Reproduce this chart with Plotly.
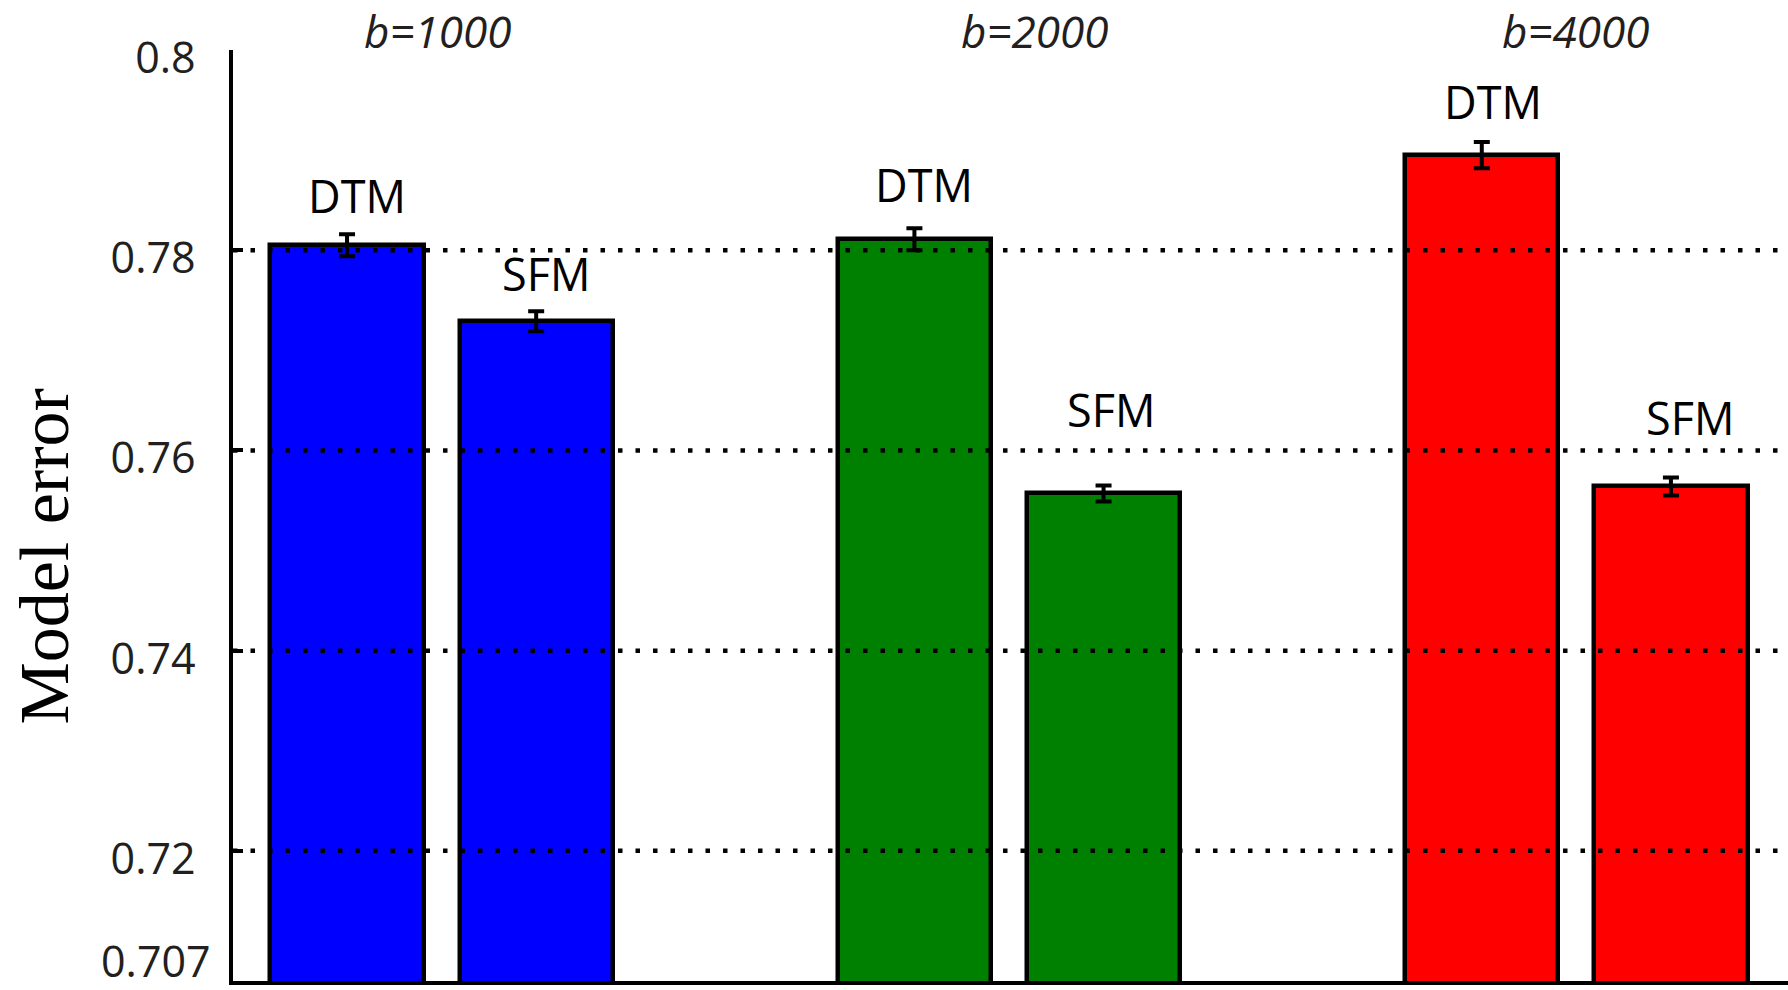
import plotly.graph_objects as go

# Batch sizes and the two methods compared in each batch
groups = ["b=1000", "b=2000", "b=4000"]
methods = ["DTM", "SFM"]

# Mean model error and its standard error per batch size
dtm_error = [0.7805, 0.7811, 0.7895]
sfm_error = [0.7729, 0.7557, 0.7564]
dtm_std = [0.0011, 0.0011, 0.0013]
sfm_std = [0.0010, 0.0008, 0.0009]

# Y axis ticks
y_ticks = [0.72, 0.74, 0.76, 0.78, 0.8]
y_tick_text = ["0.72", "0.74", "0.76", "0.78", "0.8"]
y_floor = 0.707
y_floor_text = "0.707"

group_colors = ["#0000ff", "#008000", "#ff0000"]
sans = "Open Sans"
serif = "Liberation Serif"
label_color = "#231f20"

fig = go.Figure()

# One trace per batch size: DTM bar in slot 3g, SFM bar in slot 3g+1
for g, name in enumerate(groups):
    fig.add_trace(go.Bar(
        x=[3 * g, 3 * g + 1],
        y=[dtm_error[g], sfm_error[g]],
        width=0.81,
        name=name,
        marker=dict(color=group_colors[g], line=dict(color="black", width=4.5)),
        error_y=dict(type="data", array=[dtm_std[g], sfm_std[g]],
                     color="black", thickness=4, width=8),
        showlegend=False,
    ))

# Dotted reference lines drawn over the bars
for t in y_ticks[:-1]:
    fig.add_shape(type="line", xref="paper", x0=0, x1=1, yref="y", y0=t, y1=t,
                  line=dict(color="black", width=4.5, dash="4.5px,13px"),
                  layer="above")

annotations = []

# Method labels above each bar (x position, y position)
label_pos = {
    (0, 0): (0.05, 0.78551), (0, 1): (1.05, 0.77768),
    (1, 0): (3.05, 0.78655), (1, 1): (4.04, 0.76408),
    (2, 0): (6.06, 0.79483), (2, 1): (7.10, 0.76326),
}
for g in range(len(groups)):
    for m, meth in enumerate(methods):
        lx, ly = label_pos[(g, m)]
        annotations.append(dict(
            x=lx, y=ly, xref="x", yref="y", text=meth, showarrow=False,
            xanchor="center", yanchor="middle",
            font=dict(family=sans, size=45, color="black")))

# Batch-size headers above each group
header_x = [0.48, 3.64, 6.50]
for g, name in enumerate(groups):
    annotations.append(dict(
        x=header_x[g], y=1.0204, xref="x", yref="paper",
        text="<i>%s</i>" % name, showarrow=False,
        xanchor="center", yanchor="middle",
        font=dict(family=sans, size=44, color=label_color)))

# Label at the bottom of the value axis, kept inside the page
annotations.append(dict(
    x=-0.0126, y=y_floor, xref="paper", yref="y", text=y_floor_text,
    showarrow=False, xanchor="right", yanchor="middle", yshift=21,
    font=dict(family=sans, size=43, color=label_color)))

# Value axis title
annotations.append(dict(
    x=-0.1206, y=0.4565, xref="paper", yref="paper", text="Model error",
    showarrow=False, textangle=-90, xanchor="center", yanchor="middle",
    font=dict(family=serif, size=70, color="black")))

fig.update_layout(
    width=1788, height=990,
    margin=dict(l=233, r=0, t=50, b=9),
    paper_bgcolor="white", plot_bgcolor="white",
    bargap=0, barmode="group",
    annotations=annotations,
    xaxis=dict(
        range=[-0.603, 7.619], showticklabels=False, ticks="",
        showgrid=False, zeroline=False,
        showline=True, linecolor="black", linewidth=4,
    ),
    yaxis=dict(
        range=[y_floor, 0.8], tickvals=y_ticks, ticktext=y_tick_text,
        ticks="inside", ticklen=10, tickwidth=3.5, tickcolor="black",
        showgrid=False, zeroline=False,
        showline=True, linecolor="black", linewidth=3.5,
        tickfont=dict(family=sans, size=43, color=label_color),
        ticklabelstandoff=25, ticklabelshift=8,
    ),
)

fig.write_html("out.html")
